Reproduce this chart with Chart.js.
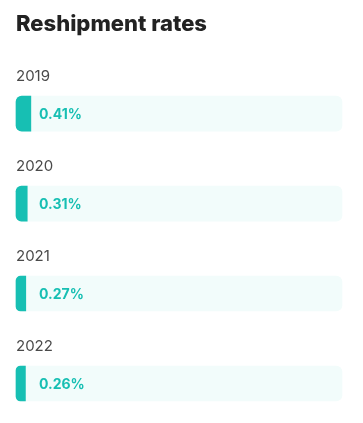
<!DOCTYPE html>
<html>
<head>
<meta charset="utf-8">
<script src="https://cdn.jsdelivr.net/npm/chart.js@4.4.1/dist/chart.umd.min.js"></script>
<style>
  html, body { margin: 0; padding: 0; background: #fff; }
  #wrap { width: 363px; height: 423px; position: relative; }
</style>
</head>
<body>
<div id="wrap"><canvas id="rates_chart"></canvas></div>
<script>
// datos
var years = ['2019', '2020', '2021', '2022'];
var rates = [0.41, 0.31, 0.27, 0.26];
var scaleMax = 9;
var track = years.map(function () { return scaleMax; });

var teal = '#17bfb3';
var mint = '#f2fcfb';

// etiquetas de año encima y valor dentro de cada barra
var rowLabels = {
  id: 'rowLabels',
  afterDatasetsDraw: function (chart) {
    var ctx = chart.ctx;
    var left = chart.chartArea.left;
    var meta = chart.getDatasetMeta(0);
    ctx.save();
    ctx.textBaseline = 'middle';
    ctx.textAlign = 'left';
    meta.data.forEach(function (bar, i) {
      ctx.font = '15px Inter';
      ctx.fillStyle = '#4a4a4a';
      ctx.fillText(years[i], left, bar.y - 37);
      ctx.font = 'bold 14px Inter';
      ctx.fillStyle = teal;
      ctx.fillText(rates[i].toFixed(2) + '%', left + 23, bar.y + 1);
    });
    ctx.restore();
  }
};

new Chart(document.getElementById('rates_chart'), {
  type: 'bar',
  data: {
    labels: years,
    datasets: [
      {
        data: rates,
        backgroundColor: teal,
        borderRadius: { topLeft: 6, bottomLeft: 6, topRight: 0, bottomRight: 0 },
        borderSkipped: false,
        barThickness: 35,
        clip: false
      },
      {
        data: track,
        backgroundColor: mint,
        borderRadius: 6,
        borderSkipped: false,
        barThickness: 35,
        clip: false
      }
    ]
  },
  options: {
    indexAxis: 'y',
    responsive: true,
    maintainAspectRatio: false,
    animation: false,
    datasets: { bar: { grouped: false } },
    layout: { padding: { top: 1, left: 16, right: 21, bottom: 39.5 } },
    scales: {
      x: { display: false, min: 0, max: scaleMax },
      y: { display: false, offset: false }
    },
    plugins: {
      legend: { display: false },
      tooltip: { enabled: false },
      title: {
        display: true,
        text: 'Reshipment rates',
        align: 'start',
        color: '#222222',
        font: { family: 'Inter', size: 22, weight: 800 },
        padding: { top: 10, bottom: 76.2 }
      }
    }
  },
  plugins: [rowLabels]
});
</script>
</body>
</html>
